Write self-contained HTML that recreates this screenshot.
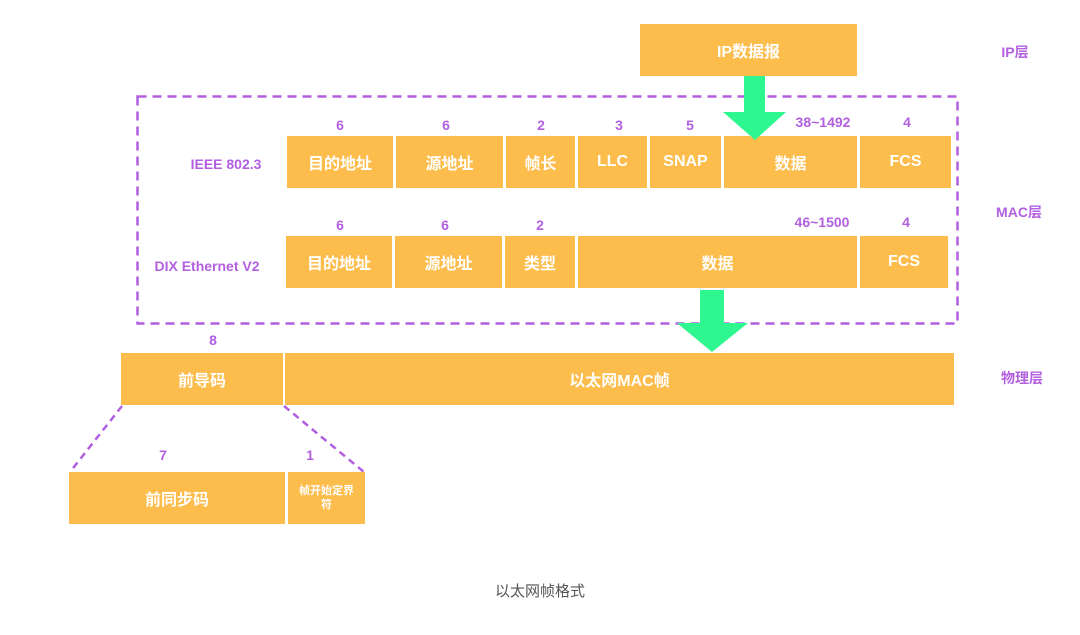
<!DOCTYPE html>
<html><head><meta charset="utf-8"><style>
body{margin:0;width:1080px;height:635px;background:#fff;position:relative;overflow:hidden;font-family:"Liberation Sans","Noto Sans CJK SC",sans-serif;}
.b{position:absolute;background:#FDBD4C;color:#fff;font-weight:bold;font-size:16px;display:flex;align-items:center;justify-content:center;text-align:center;}
.n{position:absolute;color:#B25FE0;font-weight:bold;font-size:14px;text-align:center;transform:translate(-50%,-50%);white-space:nowrap;}
svg{position:absolute;left:0;top:0;}
</style></head><body>
<svg width="1080" height="635">
<rect x="137.5" y="96.5" width="820" height="227" fill="none" stroke="#B25FE0" stroke-width="2.5" stroke-dasharray="9,6"/>
<line x1="122" y1="406" x2="70" y2="472" stroke="#B25FE0" stroke-width="2.5" stroke-dasharray="7,5"/>
<line x1="284" y1="406" x2="364" y2="472" stroke="#B25FE0" stroke-width="2.5" stroke-dasharray="7,5"/>
</svg>
<div class="b" style="left:640px;top:24px;width:217px;height:52px">IP数据报</div>

<div class="b" style="left:287px;top:136px;width:106px;height:52px">目的地址</div>
<div class="b" style="left:396px;top:136px;width:107px;height:52px">源地址</div>
<div class="b" style="left:506px;top:136px;width:69px;height:52px">帧长</div>
<div class="b" style="left:578px;top:136px;width:69px;height:52px">LLC</div>
<div class="b" style="left:650px;top:136px;width:71px;height:52px">SNAP</div>
<div class="b" style="left:724px;top:136px;width:133px;height:52px">数据</div>
<div class="b" style="left:860px;top:136px;width:91px;height:52px">FCS</div>

<div class="b" style="left:286px;top:236px;width:106px;height:52px">目的地址</div>
<div class="b" style="left:395px;top:236px;width:107px;height:52px">源地址</div>
<div class="b" style="left:505px;top:236px;width:70px;height:52px">类型</div>
<div class="b" style="left:578px;top:236px;width:279px;height:52px">数据</div>
<div class="b" style="left:860px;top:236px;width:88px;height:52px">FCS</div>

<div class="b" style="left:121px;top:353px;width:162px;height:52px">前导码</div>
<div class="b" style="left:285px;top:353px;width:669px;height:52px">以太网MAC帧</div>

<div class="b" style="left:69px;top:472px;width:216px;height:52px">前同步码</div>
<div class="b" style="left:288px;top:472px;width:77px;height:52px;font-size:11px;line-height:14px">帧开始定界<br>符</div>

<svg width="1080" height="635">
<rect x="744" y="76" width="21" height="37" fill="#2EF790"/>
<polygon points="723,112 786,112 755,140" fill="#2EF790"/>
<rect x="700" y="290" width="24" height="34" fill="#2EF790"/>
<polygon points="677,323 748,323 712,352" fill="#2EF790"/>
</svg>

<div class="n" style="left:340px;top:125px">6</div>
<div class="n" style="left:446px;top:125px">6</div>
<div class="n" style="left:541px;top:125px">2</div>
<div class="n" style="left:619px;top:125px">3</div>
<div class="n" style="left:690px;top:125px">5</div>
<div class="n" style="left:823px;top:122px">38~1492</div>
<div class="n" style="left:907px;top:122px">4</div>
<div class="n" style="left:226px;top:164px">IEEE 802.3</div>
<div class="n" style="left:340px;top:225px">6</div>
<div class="n" style="left:445px;top:225px">6</div>
<div class="n" style="left:540px;top:225px">2</div>
<div class="n" style="left:822px;top:222px">46~1500</div>
<div class="n" style="left:906px;top:222px">4</div>
<div class="n" style="left:207px;top:266px">DIX Ethernet V2</div>
<div class="n" style="left:213px;top:340px">8</div>
<div class="n" style="left:163px;top:455px">7</div>
<div class="n" style="left:310px;top:455px">1</div>
<div class="n" style="left:1015px;top:52px">IP层</div>
<div class="n" style="left:1019px;top:212px">MAC层</div>
<div class="n" style="left:1022px;top:378px">物理层</div>
<div style="position:absolute;left:440px;top:580px;width:200px;text-align:center;color:#555;font-size:15px">以太网帧格式</div>
</body></html>
